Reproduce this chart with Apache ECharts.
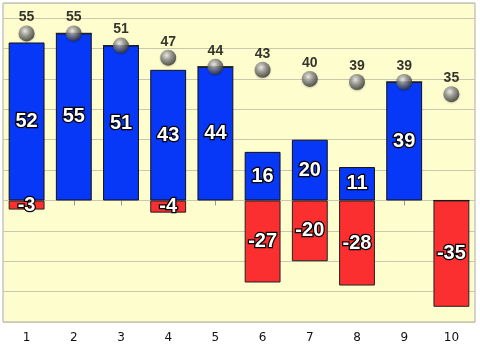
<!DOCTYPE html>
<html><head><meta charset="utf-8">
<script src="https://cdn.jsdelivr.net/npm/echarts@6/dist/echarts.min.js"></script>
<style>html,body{margin:0;padding:0;background:#fff}#c{width:480px;height:345px}</style>
</head><body><div id="c"></div>
<script>
const categories = ['1','2','3','4','5','6','7','8','9','10'];
const positiveValues = [52,55,51,43,44,16,20,11,39,0];
const negativeValues = [-3,0,0,-4,0,-27,-20,-28,0,-35];
const totalValues = [55,55,51,47,44,43,40,39,39,35];

const barLabel = {
  show: true, position: 'inside', color: '#fff',
  fontFamily: '"Liberation Sans", Arial, sans-serif',
  fontWeight: 'bold', fontSize: 20,
  textBorderColor: '#000', textBorderWidth: 2.5,
  formatter: p => p.value === 0 ? '' : String(p.value)
};
const chart = echarts.init(document.getElementById('c'), null, {renderer: 'canvas'});
chart.setOption({
  animation: false,
  backgroundColor: '#fff',
  grid: {left: 3, right: 5, top: 3, bottom: 23, show: true, backgroundColor: '#fefdcd', borderColor: '#aaaaaa', borderWidth: 1},
  xAxis: {
    type: 'category', data: categories,
    axisLine: {show: false},
    axisTick: {show: true, alignWithLabel: true, length: 5, lineStyle: {color: '#999'}},
    axisLabel: {color: '#111', fontSize: 12, fontFamily: 'DejaVu Sans, sans-serif', margin: 10},
    splitLine: {show: false}
  },
  yAxis: {
    type: 'value', min: -40, max: 65, interval: 10,
    axisLabel: {show: false}, axisLine: {show: false}, axisTick: {show: false},
    splitLine: {show: true, lineStyle: {color: '#c9c7ad', width: 1}}
  },
  series: [
    {type: 'bar', stack: 's', data: positiveValues, barWidth: '76%',
     itemStyle: {color: '#0738f7', borderColor: '#111', borderWidth: 1}, label: barLabel},
    {type: 'bar', stack: 's', data: negativeValues, barWidth: '76%',
     itemStyle: {color: '#fb2f2f', borderColor: '#222', borderWidth: 1}, label: barLabel},
    {type: 'scatter', data: totalValues, symbol: 'circle', symbolSize: 16, z: 5,
     itemStyle: {
       color: {type: 'radial', x: 0.4, y: 0.35, r: 0.65,
         colorStops: [{offset: 0, color: '#f0f0f0'}, {offset: 0.45, color: '#8e8e8e'}, {offset: 1, color: '#333'}]},
       shadowColor: 'rgba(0,0,0,0.25)', shadowBlur: 2, shadowOffsetY: 1
     },
     label: {show: true, position: 'top', distance: 1, formatter: '{v|{c}}',
       rich: {v: {color: '#000', fontSize: 14, fontWeight: 'bold', fontFamily: '"Liberation Sans", Arial, sans-serif'}}}}
  ]
});
</script></body></html>
